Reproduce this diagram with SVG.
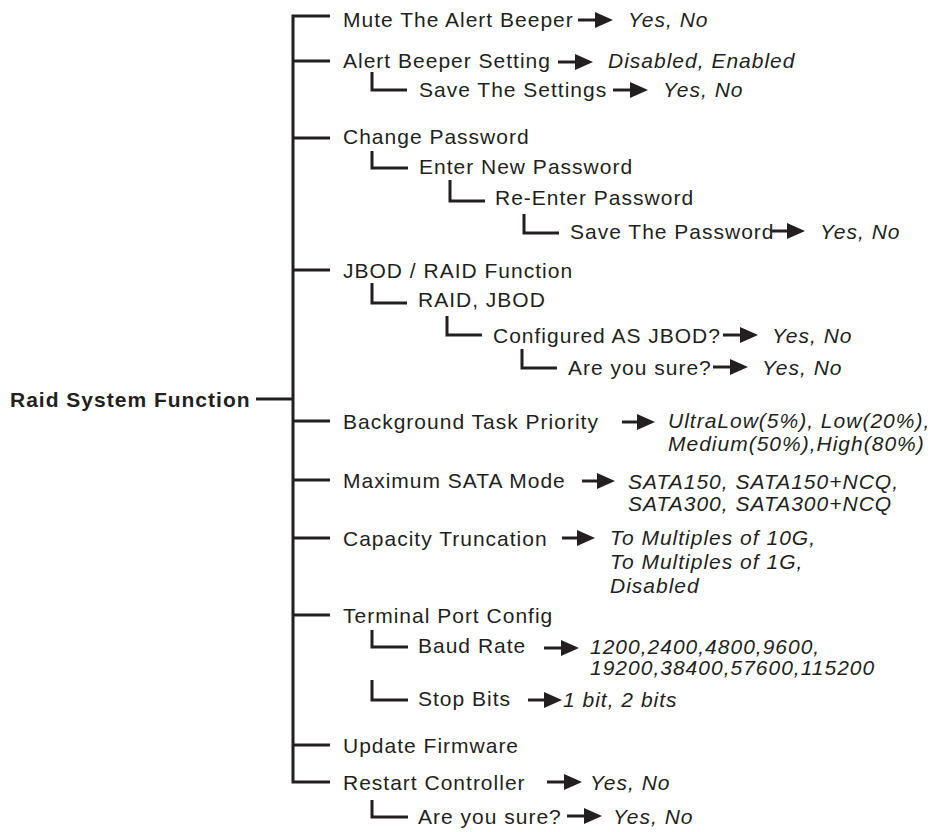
<svg xmlns="http://www.w3.org/2000/svg" width="936" height="832" viewBox="0 0 936 832">
<style>
text{font-family:"Liberation Sans",Arial,sans-serif;font-size:21px;fill:#231f20;letter-spacing:1px}
.v{font-style:italic}
.b{font-weight:bold}
.ln{fill:none;stroke:#231f20;stroke-width:3;stroke-linecap:butt;stroke-linejoin:miter}
.sh{stroke:#231f20;stroke-width:3}
.hd{fill:#231f20}
</style>
<defs>
<path id="ah" d="M-18,-8 L0,0 L-18,8 Z"/>
</defs>
<rect width="936" height="832" fill="#fff"/>
<g id="connectors">
<path class="ln" d="M330,16 H293 V782 H330"/>
<path class="ln" d="M293,61 H330 M293,138 H330 M293,270 H330 M293,421 H330 M293,480 H330 M293,538 H330 M293,615 H330 M293,745 H330"/>
<path class="ln" d="M256,399 H293"/>
<path class="ln" d="M372,72 V90 H407"/>
<path class="ln" d="M372,151 V168 H408"/>
<path class="ln" d="M450,180 V201 H485"/>
<path class="ln" d="M524,214 V233 H559"/>
<path class="ln" d="M372,283 V303 H407"/>
<path class="ln" d="M447,316 V335 H482"/>
<path class="ln" d="M522,349 V368 H557"/>
<path class="ln" d="M372,630 V647 H408"/>
<path class="ln" d="M372,680 V700 H408"/>
<path class="ln" d="M372,800 V817 H408"/>
<g id="arrows">
<line class="sh" x1="578" y1="20" x2="597" y2="20"/><use class="hd" href="#ah" x="613" y="20"/>
<line class="sh" x1="558" y1="62" x2="577" y2="62"/><use class="hd" href="#ah" x="593" y="62"/>
<line class="sh" x1="613" y1="90" x2="632" y2="90"/><use class="hd" href="#ah" x="648" y="90"/>
<line class="sh" x1="772" y1="231" x2="789" y2="231"/><use class="hd" href="#ah" x="805" y="231"/>
<line class="sh" x1="723" y1="335" x2="742" y2="335"/><use class="hd" href="#ah" x="758" y="335"/>
<line class="sh" x1="713" y1="367" x2="732" y2="367"/><use class="hd" href="#ah" x="748" y="367"/>
<line class="sh" x1="622" y1="422" x2="639" y2="422"/><use class="hd" href="#ah" x="655" y="422"/>
<line class="sh" x1="582" y1="481" x2="599" y2="481"/><use class="hd" href="#ah" x="615" y="481"/>
<line class="sh" x1="562" y1="538" x2="579" y2="538"/><use class="hd" href="#ah" x="595" y="538"/>
<line class="sh" x1="544" y1="648" x2="563" y2="648"/><use class="hd" href="#ah" x="579" y="648"/>
<line class="sh" x1="528" y1="700" x2="546" y2="700"/><use class="hd" href="#ah" x="562" y="700"/>
<line class="sh" x1="547" y1="782" x2="566" y2="782"/><use class="hd" href="#ah" x="582" y="782"/>
<line class="sh" x1="567" y1="816" x2="586" y2="816"/><use class="hd" href="#ah" x="602" y="816"/>
</g>
</g>
<g id="root"><text class="b" x="10" y="407">Raid System Function</text></g>
<g id="n-mute"><text x="343" y="26.5">Mute The Alert Beeper</text><text class="v" x="628" y="26.5">Yes, No</text></g>
<g id="n-beeper"><text x="343" y="67.5">Alert Beeper Setting</text><text class="v" x="608" y="68">Disabled, Enabled</text></g>
<g id="n-savesettings"><text x="419" y="96.5">Save The Settings</text><text class="v" x="663" y="97">Yes, No</text></g>
<g id="n-changepw"><text x="343" y="143.5">Change Password</text></g>
<g id="n-enterpw"><text x="419" y="173.5">Enter New Password</text></g>
<g id="n-reenterpw"><text x="495" y="205">Re-Enter Password</text></g>
<g id="n-savepw"><text x="570" y="239">Save The Password</text><text class="v" x="820" y="239">Yes, No</text></g>
<g id="n-jbod"><text x="343" y="278">JBOD / RAID Function</text></g>
<g id="n-raidjbod"><text x="418" y="307">RAID, JBOD</text></g>
<g id="n-configjbod"><text x="493" y="343">Configured AS JBOD?</text><text class="v" x="772" y="343">Yes, No</text></g>
<g id="n-sure1"><text x="568" y="375">Are you sure?</text><text class="v" x="762" y="375">Yes, No</text></g>
<g id="n-bgtask"><text x="343" y="429">Background Task Priority</text><text class="v" x="668" y="428">UltraLow(5%), Low(20%),</text><text class="v" x="668" y="451">Medium(50%),High(80%)</text></g>
<g id="n-sata"><text x="343" y="488">Maximum SATA Mode</text><text class="v" x="628" y="489">SATA150, SATA150+NCQ,</text><text class="v" x="628" y="511">SATA300, SATA300+NCQ</text></g>
<g id="n-capacity"><text x="343" y="546">Capacity Truncation</text><text class="v" x="610" y="545">To Multiples of 10G,</text><text class="v" x="610" y="569">To Multiples of 1G,</text><text class="v" x="610" y="593">Disabled</text></g>
<g id="n-terminal"><text x="343" y="623">Terminal Port Config</text></g>
<g id="n-baud"><text x="418" y="653">Baud Rate</text><text class="v" x="590" y="654">1200,2400,4800,9600,</text><text class="v" x="590" y="675">19200,38400,57600,115200</text></g>
<g id="n-stopbits"><text x="418" y="706">Stop Bits</text><text class="v" x="563" y="707">1 bit, 2 bits</text></g>
<g id="n-firmware"><text x="343" y="753">Update Firmware</text></g>
<g id="n-restart"><text x="343" y="790">Restart Controller</text><text class="v" x="590" y="790">Yes, No</text></g>
<g id="n-sure2"><text x="418" y="824">Are you sure?</text><text class="v" x="613" y="824">Yes, No</text></g>
</svg>
